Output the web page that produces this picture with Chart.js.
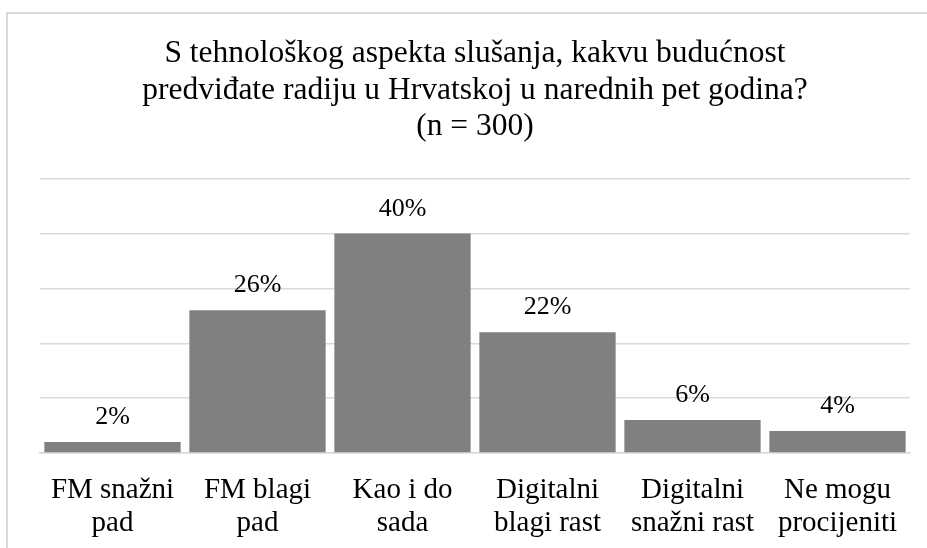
<!DOCTYPE html>
<html>
<head>
<meta charset="utf-8">
<script src="https://cdn.jsdelivr.net/npm/chart.js@4"></script>
<style>
  body { margin: 0; background: #fff; overflow: hidden; }
  #wrap { position: relative; width: 927px; height: 548px; }
  #frame { position: absolute; left: 6px; top: 12px; width: 940px; height: 560px;
           border: 2px solid #d9d9d9; pointer-events: none; }
</style>
</head>
<body>
<div id="wrap">
  <canvas id="chart" width="927" height="548"></canvas>
  <div id="frame"></div>
</div>
<script>
// podaci
const titleLines = [
    "S tehnološkog aspekta slušanja, kakvu budućnost",
    "predviđate radiju u Hrvatskoj u narednih pet godina?",
    "(n = 300)"
]
const categories = [
    ["FM snažni", "pad"],
    ["FM blagi", "pad"],
    ["Kao i do", "sada"],
    ["Digitalni", "blagi rast"],
    ["Digitalni", "snažni rast"],
    ["Ne mogu", "procijeniti"]
]
const values = [2, 26, 40, 22, 6, 4]
const yTicks = [0, 10, 20, 30, 40, 50]

const serif = '"Liberation Serif", "Times New Roman", Times, serif'

// etykiety nad słupkami
const valueLabels = {
    id: "valueLabels",
    afterDatasetsDraw(chart) {
        const ctx = chart.ctx
        const meta = chart.getDatasetMeta(0)
        ctx.save()
        ctx.font = "26px " + serif
        ctx.fillStyle = "#000"
        ctx.textAlign = "center"
        ctx.textBaseline = "alphabetic"
        meta.data.forEach((bar, i) => {
            ctx.fillText(values[i] + "%", bar.x, bar.y - 18)
        })
        ctx.restore()
    }
}

function draw() {
    new Chart(
        document.getElementById("chart"),
        {
            type: "bar",
            data: {
                labels: categories,
                datasets: [{
                    data: values,
                    backgroundColor: "#808080",
                    barPercentage: 0.94,
                    categoryPercentage: 1
                }]
            },
            options: {
                responsive: false,
                animation: false,
                layout: { padding: { left: 40, right: 17, top: 0, bottom: 9 } },
                plugins: {
                    legend: { display: false },
                    tooltip: { enabled: false },
                    title: {
                        display: true,
                        text: titleLines,
                        color: "#000",
                        font: { family: serif, size: 31.5, weight: "normal", lineHeight: 1.15 },
                        padding: { top: 36, bottom: 34 }
                    }
                },
                scales: {
                    x: {
                        grid: { display: false, drawTicks: false },
                        border: { display: true, color: "#d9d9d9", width: 1.5 },
                        afterFit: (axis) => { axis.height = 86 },
                        ticks: {
                            color: "#000",
                            padding: 21,
                            maxRotation: 0,
                            autoSkip: false,
                            font: { family: serif, size: 29, lineHeight: 1.14 }
                        }
                    },
                    y: {
                        min: 0,
                        max: 50,
                        afterBuildTicks: (axis) => { axis.ticks = yTicks.map(v => ({ value: v })) },
                        grid: { color: "#d9d9d9", lineWidth: 1.5, drawTicks: false },
                        border: { display: false },
                        ticks: { display: false }
                    }
                }
            },
            plugins: [valueLabels]
        }
    )
}

// czekamy na czcionkę
document.fonts.load('27px "Liberation Serif"').then(draw, draw)
</script>
</body>
</html>
